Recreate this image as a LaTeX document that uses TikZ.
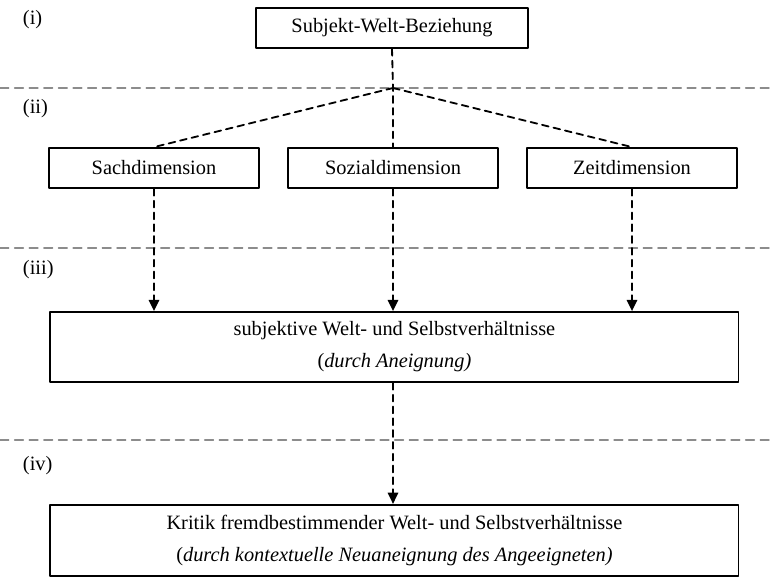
\documentclass[tikz,border=0pt]{standalone}
\usepackage{fontspec}
\setmainfont{Liberation Serif}
\usetikzlibrary{arrows.meta}

\begin{document}
\begin{tikzpicture}[line cap=round,line join=round,
    font=\fontsize{14.5}{22.8}\selectfont,
    box/.style={draw,line width=1.3pt,minimum height=1cm,inner sep=0pt},
    wide/.style={box,minimum width=17.2cm,align=center},
    link/.style={line width=1.3pt,dash pattern=on 4.8pt off 3.6pt},
    flow/.style={link,-{Triangle[length=2.8mm,width=2.6mm]}},
    sep/.style={line width=1pt,black!45,dash pattern=on 6.2pt off 4.2pt}]
  \useasboundingbox (0,0) rectangle (19.35,-14.425);
  % levels
  \draw[sep] (0,-2.2) -- (19.35,-2.2);
  \draw[sep] (0,-6.2) -- (19.35,-6.2);
  \draw[sep] (0,-11.0) -- (19.35,-11.0);
  \node[anchor=west] (lvi) at (0.45,-0.48) {(i)};
  \node[anchor=west] (lvii) at (0.45,-2.72) {(ii)};
  \node[anchor=west] (lviii) at (0.45,-6.74) {(iii)};
  \node[anchor=west] (lviv) at (0.45,-11.64) {(iv)};
  % boxes
  \node[box,minimum width=6.8cm] (swb) at (9.8,-0.7) {Subjekt-Welt-Beziehung};
  \coordinate (fork) at (9.825,-2.2);
  \node[box,minimum width=5.25cm] (sach) at (3.85,-4.2) {Sachdimension};
  \node[box,minimum width=5.25cm] (sozial) at (9.825,-4.2) {Sozialdimension};
  \node[box,minimum width=5.25cm] (zeit) at (15.8,-4.2) {Zeitdimension};
  \node[wide,minimum height=1.75cm] (swsv) at (9.86,-8.675)
    {subjektive Welt- und Selbstverhältnisse\\(\textit{durch Aneignung)}};
  \node[wide,minimum height=1.78cm] (kritik) at (9.86,-13.51)
    {Kritik fremdbestimmender Welt- und Selbstverhältnisse\\(\textit{durch kontextuelle Neuaneignung des Angeeigneten)}};
  % connectors
  \draw[link] (swb.south) -- (fork) -- (sozial.north);
  \draw[link] (fork) -- (sach.north);
  \draw[link] (fork) -- (zeit.north);
  \draw[flow] (sach.south) -- (sach.south |- swsv.north);
  \draw[flow] (sozial.south) -- (sozial.south |- swsv.north);
  \draw[flow] (zeit.south) -- (zeit.south |- swsv.north);
  \draw[flow] (swsv.south -| fork) -- (kritik.north -| fork);
\end{tikzpicture}
\end{document}
